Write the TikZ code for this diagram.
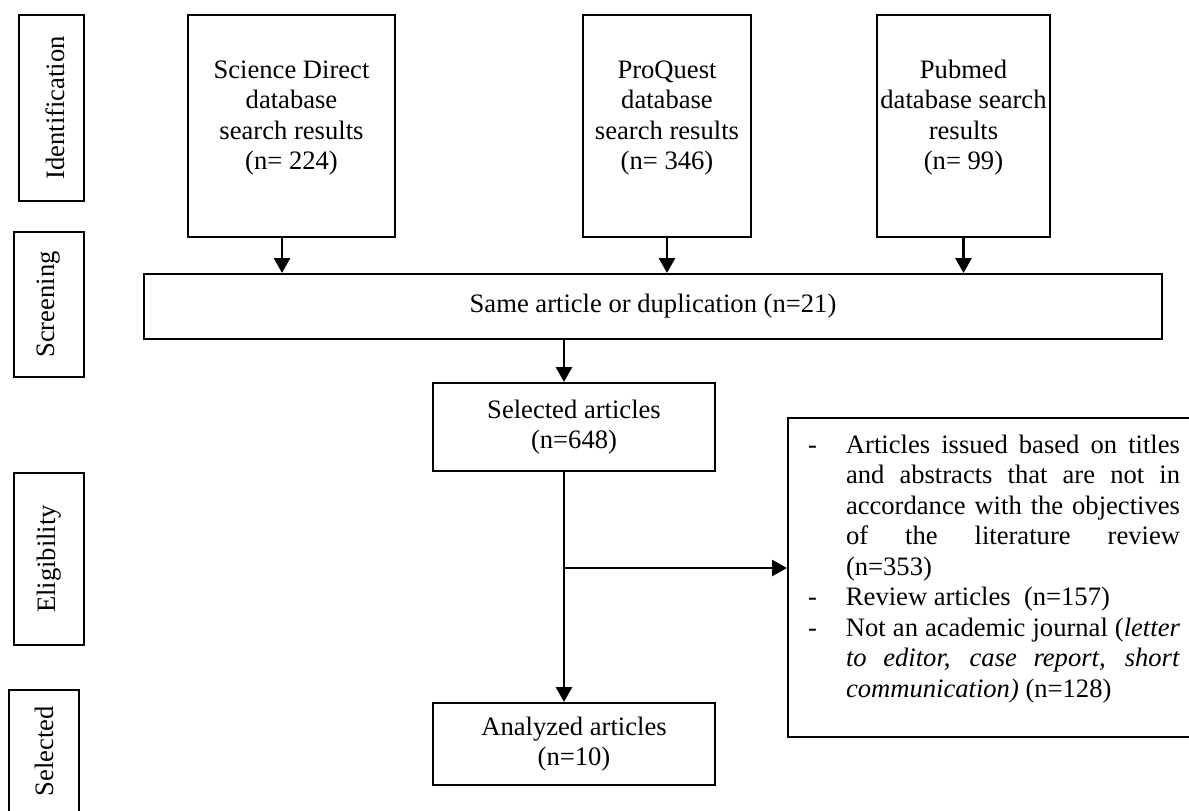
\documentclass[tikz,border=0pt]{standalone}
\usepackage{fontspec}
\setmainfont{Liberation Serif}
\usetikzlibrary{arrows.meta}
\newcommand{\jline}[1]{\makebox[167pt][s]{#1}}
\begin{document}
\begin{tikzpicture}[x=0.5pt,y=-0.5pt,
  every node/.style={font=\fontsize{13.3}{15.25}\selectfont},
  box/.style={draw, line width=1pt, rectangle, inner sep=0pt, align=center},
  lbl/.style={draw, line width=1pt, rectangle, inner sep=0pt, rotate=90},
  arr/.style={line width=1.4pt, -{Triangle[length=7.5pt,width=8pt]}},
  ln/.style={line width=1.4pt}]
\useasboundingbox (0,0) rectangle (1189,810);
\clip (0,0) rectangle (1189,810);

% stage labels
\node[lbl, minimum width=93pt, minimum height=32.5pt] (lid) at (51.5,108) {Identification\rule{0pt}{13.6pt}};
\node[lbl, minimum width=72.5pt, minimum height=35pt] (lsc) at (49,304.5) {Screening};
\node[lbl, minimum width=86pt, minimum height=35pt] (lel) at (49,559) {Eligibility};
\node[lbl, minimum width=61pt, minimum height=35pt] (lse) at (44,751) {Selected};

% sources
\node[box, minimum width=103.5pt, minimum height=111pt] (sd) at (291.5,126)
  {Science Direct\\database\\search results\\(n= 224)\rule[-11pt]{0pt}{0pt}};
\node[box, minimum width=84pt, minimum height=111pt] (pq) at (667,126)
  {ProQuest\\database\\search results\\(n= 346)\rule[-11pt]{0pt}{0pt}};
\node[box, inner xsep=1pt, minimum width=86.5pt, minimum height=111pt] (pm) at (963.5,126)
  {Pubmed\\database search\\results\\(n= 99)\rule[-11pt]{0pt}{0pt}};

\node[box, minimum width=509pt, minimum height=32.5pt] (dup) at (653,306.5)
  {Same article or duplication (n=21)};
\node[box, minimum width=141pt, minimum height=44pt] (sel) at (574,427)
  {Selected articles\\(n=648)};
\node[box, minimum width=141pt, minimum height=41pt] (ana) at (574,744)
  {Analyzed articles\\(n=10)};
\node[box, align=left, minimum width=206pt, minimum height=159.5pt] (exc) at (994,577.5)
  {\begin{tabular}{@{}p{19pt}@{}l@{}}
  -&\jline{Articles issued based on titles}\\
  &\jline{and abstracts that are not in}\\
  &\jline{accordance with the objectives}\\
  &\jline{of the literature review}\\
  &(n=353)\\
  -&Review articles\ \ (n=157)\\
  -&\jline{Not an academic journal (\textit{letter}}\\
  &\jline{\textit{to editor, case report, short}}\\
  &\textit{communication)} (n=128)\rule[-13.1pt]{0pt}{0pt}
  \end{tabular}};

% connectors
\draw[arr] ([xshift=-4.75pt]sd.south) -- ([xshift=-4.75pt]sd.south |- dup.north);
\draw[arr] (pq.south) -- (pq.south |- dup.north);
\draw[arr] (pm.south) -- (pm.south |- dup.north);
\draw[arr] ([xshift=-5pt]sel.north |- dup.south) -- ([xshift=-5pt]sel.north);
\draw[arr] ([xshift=-5pt]sel.south) -- ([xshift=-5pt]ana.north);
\path ([xshift=-5pt]sel.south) ++(0,96) coordinate (br);
\draw[arr] (br) -- (br -| exc.west);
\end{tikzpicture}
\end{document}
